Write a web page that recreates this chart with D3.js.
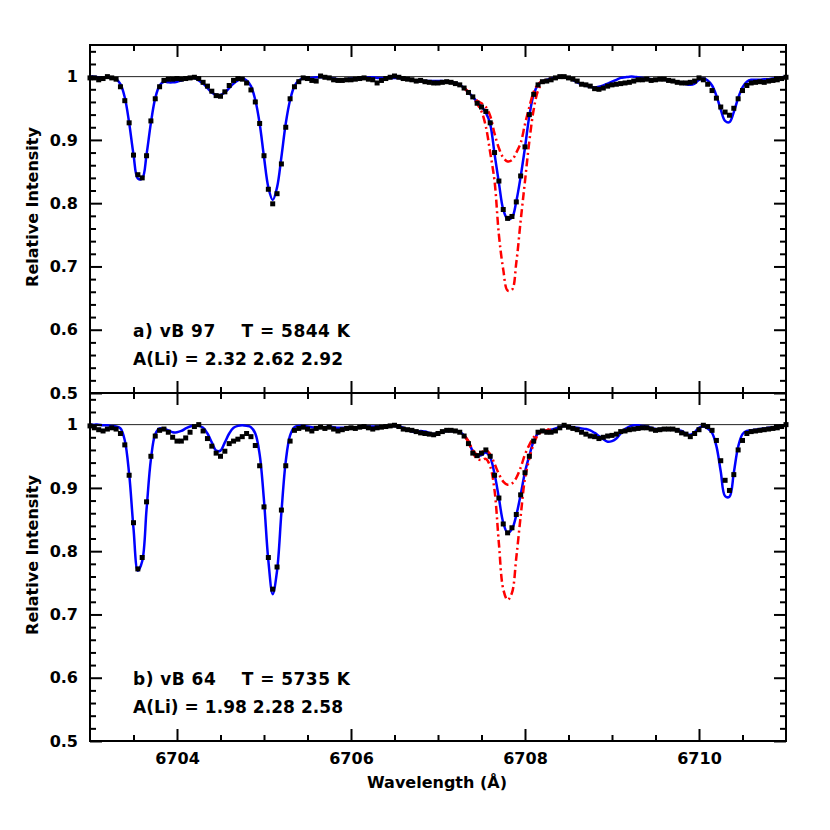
<!DOCTYPE html>
<html>
<head>
<meta charset="utf-8">
<script src="https://cdn.jsdelivr.net/npm/d3@7"></script>
<style>
  body { margin: 0; background: #fff; }
  text { font-family: 'DejaVu Sans', sans-serif; font-weight: bold; fill: #000; }
</style>
</head>
<body>
<div id="chart"></div>
<script>
// wavelength grid of the spectra (Angstrom)
var wave = [
  6703.00, 6703.05, 6703.10, 6703.15, 6703.20, 6703.25, 6703.30, 6703.35, 6703.40, 6703.45,
  6703.50, 6703.55, 6703.60, 6703.65, 6703.70, 6703.75, 6703.80, 6703.85, 6703.90, 6703.95,
  6704.00, 6704.05, 6704.10, 6704.15, 6704.20, 6704.25, 6704.30, 6704.35, 6704.40, 6704.45,
  6704.50, 6704.55, 6704.60, 6704.65, 6704.70, 6704.75, 6704.80, 6704.85, 6704.90, 6704.95,
  6705.00, 6705.05, 6705.10, 6705.15, 6705.20, 6705.25, 6705.30, 6705.35, 6705.40, 6705.45,
  6705.50, 6705.55, 6705.60, 6705.65, 6705.70, 6705.75, 6705.80, 6705.85, 6705.90, 6705.95,
  6706.00, 6706.05, 6706.10, 6706.15, 6706.20, 6706.25, 6706.30, 6706.35, 6706.40, 6706.45,
  6706.50, 6706.55, 6706.60, 6706.65, 6706.70, 6706.75, 6706.80, 6706.85, 6706.90, 6706.95,
  6707.00, 6707.05, 6707.10, 6707.15, 6707.20, 6707.25, 6707.30, 6707.35, 6707.40, 6707.45,
  6707.50, 6707.55, 6707.60, 6707.65, 6707.70, 6707.75, 6707.80, 6707.85, 6707.90, 6707.95,
  6708.00, 6708.05, 6708.10, 6708.15, 6708.20, 6708.25, 6708.30, 6708.35, 6708.40, 6708.45,
  6708.50, 6708.55, 6708.60, 6708.65, 6708.70, 6708.75, 6708.80, 6708.85, 6708.90, 6708.95,
  6709.00, 6709.05, 6709.10, 6709.15, 6709.20, 6709.25, 6709.30, 6709.35, 6709.40, 6709.45,
  6709.50, 6709.55, 6709.60, 6709.65, 6709.70, 6709.75, 6709.80, 6709.85, 6709.90, 6709.95,
  6710.00, 6710.05, 6710.10, 6710.15, 6710.20, 6710.25, 6710.30, 6710.35, 6710.40, 6710.45,
  6710.50, 6710.55, 6710.60, 6710.65, 6710.70, 6710.75, 6710.80, 6710.85, 6710.90, 6710.95,
  6711.00]

// a) vB 97 observed and best model
var obsA = [
  0.998, 0.998, 0.995, 0.997, 1.000, 0.998, 0.996, 0.984, 0.962, 0.927,
  0.876, 0.845, 0.840, 0.875, 0.930, 0.965, 0.984, 0.994, 0.996, 0.996,
  0.997, 0.996, 0.997, 0.998, 0.999, 0.997, 0.991, 0.985, 0.977, 0.970,
  0.969, 0.976, 0.986, 0.994, 0.997, 0.996, 0.990, 0.979, 0.960, 0.926,
  0.875, 0.822, 0.799, 0.815, 0.862, 0.920, 0.965, 0.984, 0.992, 0.998,
  0.997, 0.994, 0.993, 1.001, 0.999, 0.998, 0.995, 0.994, 0.994, 0.995,
  0.995, 0.996, 0.997, 0.998, 0.996, 0.995, 0.990, 0.994, 0.997, 0.999,
  1.001, 0.999, 0.997, 0.996, 0.995, 0.993, 0.994, 0.992, 0.991, 0.990,
  0.990, 0.991, 0.992, 0.991, 0.989, 0.987, 0.982, 0.975, 0.968, 0.958,
  0.952, 0.945, 0.927, 0.880, 0.835, 0.790, 0.776, 0.779, 0.802, 0.843,
  0.889, 0.940, 0.972, 0.987, 0.992, 0.993, 0.995, 0.998, 1.000, 1.000,
  0.998, 0.996, 0.993, 0.988, 0.987, 0.985, 0.981, 0.980, 0.982, 0.985,
  0.987, 0.988, 0.989, 0.990, 0.991, 0.993, 0.995, 0.995, 0.996, 0.994,
  0.995, 0.996, 0.996, 0.994, 0.993, 0.991, 0.990, 0.990, 0.991, 0.993,
  0.998, 0.995, 0.988, 0.978, 0.966, 0.952, 0.944, 0.939, 0.950, 0.965,
  0.978, 0.986, 0.990, 0.991, 0.992, 0.991, 0.993, 0.994, 0.995, 0.997,
  0.999]
var modelA = [
  1.000, 1.000, 0.999, 0.999, 0.999, 0.998, 0.996, 0.988, 0.967, 0.927,
  0.877, 0.839, 0.839, 0.877, 0.927, 0.966, 0.986, 0.992, 0.991, 0.991,
  0.992, 0.994, 0.996, 0.997, 0.998, 0.994, 0.989, 0.982, 0.975, 0.971,
  0.971, 0.975, 0.982, 0.989, 0.994, 0.997, 0.994, 0.985, 0.963, 0.926,
  0.873, 0.825, 0.805, 0.825, 0.873, 0.926, 0.963, 0.985, 0.994, 0.997,
  0.998, 0.998, 0.999, 0.999, 0.999, 0.998, 0.997, 0.996, 0.996, 0.996,
  0.997, 0.997, 0.998, 0.998, 0.999, 0.999, 0.998, 0.998, 0.998, 0.998,
  0.998, 0.998, 0.997, 0.996, 0.995, 0.994, 0.993, 0.993, 0.993, 0.993,
  0.993, 0.993, 0.992, 0.991, 0.990, 0.987, 0.982, 0.975, 0.968, 0.960,
  0.953, 0.943, 0.925, 0.878, 0.832, 0.790, 0.775, 0.777, 0.803, 0.842,
  0.888, 0.938, 0.972, 0.987, 0.993, 0.995, 0.997, 0.998, 0.999, 0.999,
  0.998, 0.995, 0.991, 0.988, 0.986, 0.984, 0.983, 0.984, 0.986, 0.989,
  0.992, 0.995, 0.998, 0.999, 1.000, 1.000, 0.999, 0.998, 0.997, 0.996,
  0.996, 0.996, 0.995, 0.994, 0.993, 0.992, 0.990, 0.988, 0.987, 0.989,
  0.995, 0.997, 0.994, 0.986, 0.970, 0.948, 0.930, 0.928, 0.944, 0.966,
  0.983, 0.992, 0.995, 0.995, 0.995, 0.996, 0.996, 0.997, 0.998, 0.999,
  1.000]

// b) vB 64 observed and best model
var obsB = [
  0.998, 0.995, 0.992, 0.990, 0.993, 0.995, 0.993, 0.986, 0.968, 0.920,
  0.845, 0.772, 0.790, 0.878, 0.950, 0.982, 0.991, 0.993, 0.988, 0.980,
  0.974, 0.974, 0.979, 0.988, 0.997, 1.000, 0.990, 0.978, 0.966, 0.955,
  0.950, 0.958, 0.970, 0.974, 0.977, 0.981, 0.986, 0.981, 0.967, 0.935,
  0.870, 0.790, 0.740, 0.775, 0.865, 0.935, 0.974, 0.991, 0.994, 0.996,
  0.993, 0.990, 0.994, 0.996, 0.994, 0.996, 0.993, 0.990, 0.992, 0.994,
  0.995, 0.994, 0.996, 0.997, 0.995, 0.993, 0.995, 0.996, 0.997, 0.998,
  0.999, 0.997, 0.993, 0.992, 0.991, 0.989, 0.987, 0.986, 0.985, 0.984,
  0.986, 0.989, 0.991, 0.991, 0.990, 0.988, 0.982, 0.970, 0.955, 0.951,
  0.955, 0.960, 0.950, 0.920, 0.884, 0.843, 0.829, 0.837, 0.858, 0.889,
  0.924, 0.950, 0.974, 0.988, 0.990, 0.988, 0.988, 0.990, 0.995, 0.999,
  0.996, 0.994, 0.992, 0.988, 0.985, 0.982, 0.981, 0.978, 0.980, 0.982,
  0.983, 0.985, 0.989, 0.990, 0.992, 0.993, 0.994, 0.995, 0.995, 0.993,
  0.991, 0.992, 0.993, 0.993, 0.993, 0.991, 0.987, 0.985, 0.981, 0.986,
  0.992, 0.999, 0.997, 0.991, 0.975, 0.943, 0.912, 0.896, 0.921, 0.960,
  0.975, 0.986, 0.989, 0.990, 0.991, 0.992, 0.993, 0.994, 0.995, 0.997,
  1.000]
var modelB = [
  1.000, 1.000, 1.000, 0.999, 0.999, 0.998, 0.997, 0.994, 0.975, 0.922,
  0.836, 0.769, 0.784, 0.866, 0.945, 0.985, 0.994, 0.993, 0.991, 0.988,
  0.988, 0.990, 0.994, 0.997, 0.999, 0.998, 0.995, 0.986, 0.972, 0.959,
  0.959, 0.972, 0.986, 0.995, 0.998, 0.999, 0.998, 0.996, 0.986, 0.953,
  0.880, 0.785, 0.732, 0.769, 0.861, 0.942, 0.983, 0.996, 0.998, 0.998,
  0.997, 0.996, 0.995, 0.995, 0.996, 0.997, 0.996, 0.995, 0.995, 0.995,
  0.996, 0.996, 0.996, 0.997, 0.997, 0.997, 0.997, 0.997, 0.998, 0.998,
  0.998, 0.997, 0.995, 0.992, 0.989, 0.988, 0.990, 0.989, 0.987, 0.985,
  0.987, 0.989, 0.990, 0.990, 0.990, 0.988, 0.983, 0.973, 0.958, 0.950,
  0.952, 0.956, 0.948, 0.922, 0.884, 0.845, 0.829, 0.835, 0.857, 0.889,
  0.925, 0.951, 0.974, 0.986, 0.990, 0.991, 0.992, 0.994, 0.996, 0.998,
  0.997, 0.996, 0.995, 0.994, 0.993, 0.991, 0.987, 0.982, 0.977, 0.973,
  0.974, 0.978, 0.986, 0.993, 0.997, 0.999, 0.999, 0.998, 0.997, 0.995,
  0.993, 0.993, 0.994, 0.994, 0.993, 0.992, 0.990, 0.986, 0.984, 0.988,
  0.995, 0.997, 0.994, 0.987, 0.966, 0.926, 0.887, 0.886, 0.924, 0.965,
  0.985, 0.990, 0.991, 0.992, 0.993, 0.994, 0.995, 0.996, 0.997, 0.998,
  0.999]

// Li region: models with lower and higher abundance
var liWave = [
  6707.30, 6707.35, 6707.40, 6707.45, 6707.50, 6707.55, 6707.60, 6707.65, 6707.70, 6707.75,
  6707.80, 6707.85, 6707.90, 6707.95, 6708.00, 6708.05, 6708.10, 6708.15, 6708.20, 6708.25,
  6708.30]
var liLowA = [
  0.982, 0.976, 0.969, 0.962, 0.958, 0.952, 0.938, 0.910, 0.887, 0.872,
  0.866, 0.868, 0.880, 0.895, 0.925, 0.952, 0.976, 0.988, 0.993, 0.995,
  0.997]
var liHighA = [
  0.982, 0.975, 0.967, 0.957, 0.945, 0.921, 0.880, 0.835, 0.750, 0.695,
  0.662, 0.663, 0.706, 0.772, 0.835, 0.898, 0.948, 0.978, 0.990, 0.994,
  0.995]
var liLowB = [
  0.983, 0.974, 0.960, 0.953, 0.956, 0.960, 0.953, 0.938, 0.922, 0.910,
  0.905, 0.907, 0.916, 0.932, 0.953, 0.968, 0.980, 0.988, 0.991, 0.992,
  0.993]
var liHighB = [
  0.983, 0.972, 0.956, 0.946, 0.944, 0.946, 0.934, 0.896, 0.812, 0.740,
  0.723, 0.734, 0.790, 0.855, 0.915, 0.946, 0.970, 0.984, 0.989, 0.991,
  0.992]

var xMajor = [6704, 6706, 6708, 6710]
var xLabels = ['6704', '6706', '6708', '6710']
var yMajor = [0.5, 0.6, 0.7, 0.8, 0.9, 1]
var yLabels = ['0.5', '0.6', '0.7', '0.8', '0.9', '1']
var starLabels = ['a) vB 97    T = 5844 K', 'b) vB 64    T = 5735 K']
var abundLabels = ['A(Li) = 2.32 2.62 2.92', 'A(Li) = 1.98 2.28 2.58']

var width = 830, height = 830
var left = 90, right = 786
var panels = [
  {top: 45, bottom: 393, obs: obsA, model: modelA, low: liLowA, high: liHighA},
  {top: 393, bottom: 741, obs: obsB, model: modelB, low: liLowB, high: liHighB}
]

var svg = d3.select('#chart').
  append('svg').
  attr('width', width).
  attr('height', height)

var x = d3.scaleLinear().domain([6703, 6711]).range([left, right])
var xMinor = d3.range(6703.5, 6711, 0.5).filter(d => xMajor.indexOf(d) < 0)

function styleAxis (g, size) {
  g.select('.domain').remove()
  g.selectAll('line').attr('stroke', '#000').attr('stroke-width', 2)
  g.selectAll('text').
    attr('font-family', 'DejaVu Sans').
    attr('font-weight', 'bold').
    attr('font-size', size)
}

panels.forEach(function (p, k) {
  var y = d3.scaleLinear().domain([0.5, 1.05]).range([p.bottom, p.top])
  var yMinor = d3.range(0.52, 1.05, 0.02).
    map(d => Math.round(d * 100) / 100).
    filter(d => yMajor.indexOf(d) < 0)
  var g = svg.append('g')

  // continuum
  g.append('line').
    attr('x1', left).attr('x2', right).
    attr('y1', y(1)).attr('y2', y(1)).
    attr('stroke', '#222').
    attr('stroke-width', 1)

  var line = d3.line().
    x(d => x(d[0])).
    y(d => y(d[1])).
    curve(d3.curveCatmullRom)

  g.append('path').
    datum(d3.zip(wave, p.model)).
    attr('d', line).
    attr('fill', 'none').
    attr('stroke', '#0000ff').
    attr('stroke-width', 2.5)

  ;[p.low, p.high].forEach(function (s) {
    g.append('path').
      datum(d3.zip(liWave, s)).
      attr('d', line).
      attr('fill', 'none').
      attr('stroke', '#ff0000').
      attr('stroke-width', 2.5).
      attr('stroke-dasharray', '8,3.5,2,3.5')
  })

  g.selectAll('rect.obs').
    data(d3.zip(wave, p.obs)).
    enter().
    append('rect').
    attr('class', 'obs').
    attr('x', d => x(d[0]) - 2.5).
    attr('y', d => y(d[1]) - 2.5).
    attr('width', 5).
    attr('height', 5).
    attr('fill', '#000')

  // frame
  g.append('rect').
    attr('x', left).attr('y', p.top).
    attr('width', right - left).attr('height', p.bottom - p.top).
    attr('fill', 'none').
    attr('stroke', '#000').
    attr('stroke-width', 2)

  // ticks, all pointing inwards
  var bottomMajor = d3.axisBottom(x).tickValues(xMajor).tickSize(-12).tickPadding(12)
  if (k === 1) bottomMajor.tickFormat((d, i) => xLabels[i])
  else bottomMajor.tickFormat('')
  g.append('g').attr('transform', 'translate(0,' + p.bottom + ')').
    call(bottomMajor).call(styleAxis, 16)
  g.append('g').attr('transform', 'translate(0,' + p.bottom + ')').
    call(d3.axisBottom(x).tickValues(xMinor).tickSize(-6).tickFormat('')).
    call(styleAxis, 16)
  g.append('g').attr('transform', 'translate(0,' + p.top + ')').
    call(d3.axisTop(x).tickValues(xMajor).tickSize(-12).tickFormat('')).
    call(styleAxis, 16)
  g.append('g').attr('transform', 'translate(0,' + p.top + ')').
    call(d3.axisTop(x).tickValues(xMinor).tickSize(-6).tickFormat('')).
    call(styleAxis, 16)

  g.append('g').attr('transform', 'translate(' + left + ',0)').
    call(d3.axisLeft(y).tickValues(yMajor).tickSize(-12).tickPadding(12).
      tickFormat((d, i) => yLabels[i])).
    call(styleAxis, 16)
  g.append('g').attr('transform', 'translate(' + left + ',0)').
    call(d3.axisLeft(y).tickValues(yMinor).tickSize(-6).tickFormat('')).
    call(styleAxis, 16)
  g.append('g').attr('transform', 'translate(' + right + ',0)').
    call(d3.axisRight(y).tickValues(yMajor).tickSize(-12).tickFormat('')).
    call(styleAxis, 16)
  g.append('g').attr('transform', 'translate(' + right + ',0)').
    call(d3.axisRight(y).tickValues(yMinor).tickSize(-6).tickFormat('')).
    call(styleAxis, 16)

  g.append('text').
    attr('transform', 'translate(38,' + ((p.top + p.bottom) / 2 - 12) + ') rotate(-90)').
    attr('text-anchor', 'middle').
    attr('font-size', 16).
    text('Relative Intensity')

  g.append('text').
    attr('x', 133).attr('y', p.top + 292).
    attr('font-size', 17).
    attr('textLength', 217).
    attr('lengthAdjust', 'spacing').
    style('white-space', 'pre').
    text(starLabels[k])
  g.append('text').
    attr('x', 133).attr('y', p.top + 320).
    attr('font-size', 17).
    attr('textLength', 210).
    attr('lengthAdjust', 'spacing').
    style('white-space', 'pre').
    text(abundLabels[k])
})

svg.append('text').
  attr('x', 437).attr('y', 788).
  attr('text-anchor', 'middle').
  attr('font-size', 16).
  text('Wavelength (Å)')
</script>
</body>
</html>
